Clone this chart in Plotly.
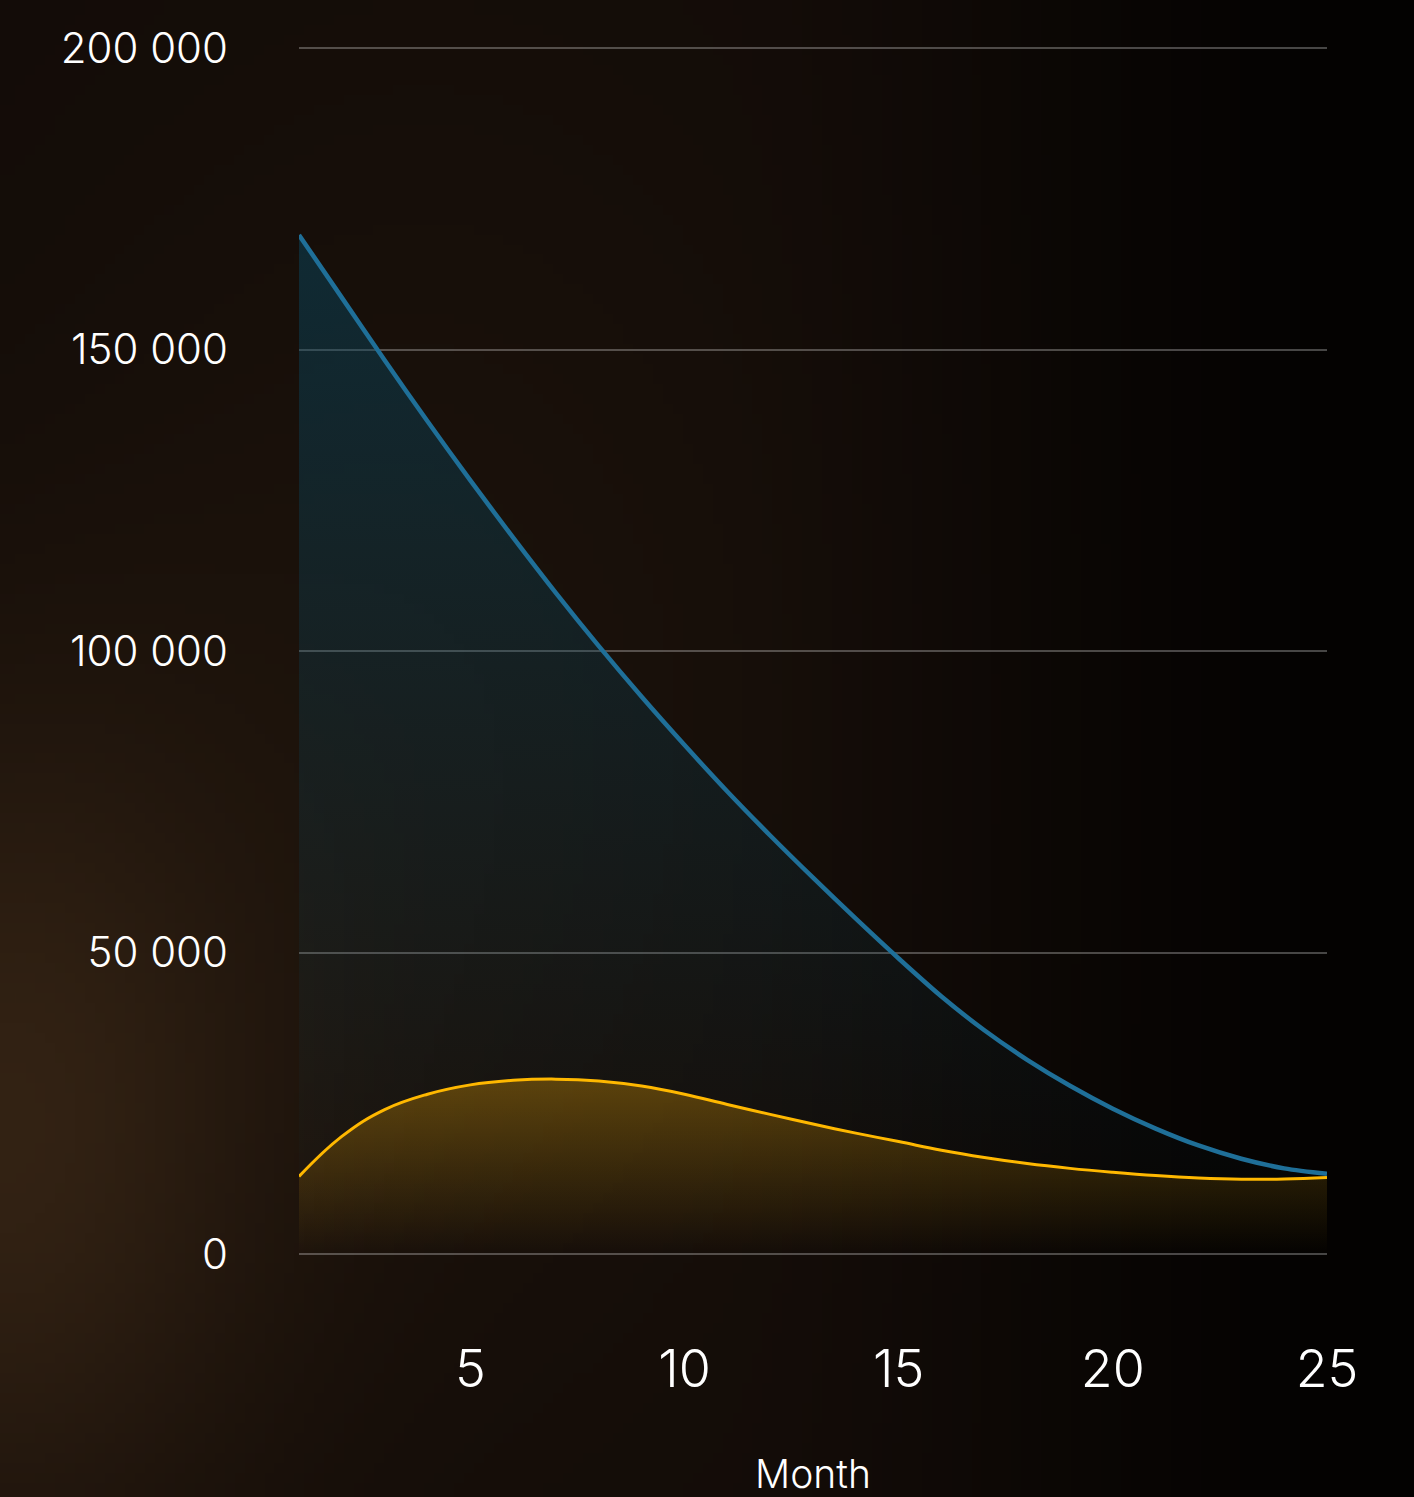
import base64
import struct
import zlib

import numpy as np
import plotly.graph_objects as go

# ---- data -------------------------------------------------------------
months = list(range(1, 26))
balance = [169000, 158600, 148200, 138100, 128300, 118800, 109600, 100800,
           92400, 84400, 76700, 69400, 62400, 55600, 49000, 42700, 37100,
           32200, 27900, 24100, 20800, 18000, 15800, 14200, 13300]
payment = [12850, 19500, 23950, 26500, 28050, 28800, 29000, 28700, 27850,
           26500, 24800, 23150, 21550, 20050, 18650, 17200, 16000, 15000,
           14200, 13550, 13000, 12600, 12400, 12450, 12700]
y_ticks = [0, 50000, 100000, 150000, 200000]
y_tick_text = ["0", "50 000", "100 000", "150 000", "200 000"]
x_ticks = [5, 10, 15, 20, 25]

W, H = 1414, 1497
FONT = "Inter, Lato, sans-serif"


# ---- soft dark backdrop, rendered into a small PNG and stretched ------
def backdrop_png(w=142, h=150):
    u = (np.arange(w) + 0.5) / w
    v = (np.arange(h) + 0.5) / h
    U, V = np.meshgrid(u, v)
    base = np.array([19, 12, 8], float)
    img = np.ones((h, w, 3)) * base
    # warm glow on the lower left
    g1 = np.exp(-((U - 0.0) ** 2) / (2 * 0.13 ** 2) - ((V - 0.76) ** 2) / (2 * 0.2 ** 2))
    img += g1[..., None] * np.array([30, 21, 11])
    # faint warm haze in the middle left
    g2 = np.exp(-((U - 0.3) ** 2) / (2 * 0.2 ** 2) - ((V - 0.5) ** 2) / (2 * 0.3 ** 2))
    img += g2[..., None] * np.array([8, 6, 3])
    # darker towards the right edge
    t = np.clip((U - 0.5) / 0.5, 0, 1)
    fade = 1 - 0.8 * t * t * (3 - 2 * t)
    img *= fade[..., None]
    arr = np.clip(img, 0, 255).astype(np.uint8)

    raw = b"".join(b"\x00" + arr[r].tobytes() for r in range(h))

    def chunk(tag, data):
        c = struct.pack(">I", len(data)) + tag + data
        return c + struct.pack(">I", zlib.crc32(tag + data) & 0xFFFFFFFF)

    png = b"\x89PNG\r\n\x1a\n"
    png += chunk(b"IHDR", struct.pack(">IIBBBBB", w, h, 8, 2, 0, 0, 0))
    png += chunk(b"IDAT", zlib.compress(raw, 9))
    png += chunk(b"IEND", b"")
    return "data:image/png;base64," + base64.b64encode(png).decode()


fig = go.Figure()

fig.add_trace(go.Scatter(
    x=months, y=balance, mode="lines",
    line=dict(color="#1f6f98", width=4.5, shape="spline", smoothing=0.9),
    fill="tozeroy",
    fillgradient=dict(
        type="vertical", start=0, stop=max(balance),
        colorscale=[[0, "rgba(8,70,95,0.0)"], [1, "rgba(8,72,98,0.48)"]],
    ),
    hoverinfo="skip", showlegend=False,
))

fig.add_trace(go.Scatter(
    x=months, y=payment, mode="lines",
    line=dict(color="#ffb800", width=3, shape="spline", smoothing=1.2),
    fill="tozeroy",
    fillgradient=dict(
        type="vertical", start=0, stop=max(payment),
        colorscale=[[0, "rgba(255,175,0,0.0)"], [1, "rgba(255,175,0,0.3)"]],
    ),
    hoverinfo="skip", showlegend=False,
))

# value axis padded a little so the 0 and 200 000 grid lines are kept
pad = 1000
px_per_unit = (1254 - 48) / 200000
top_px = 48 - pad * px_per_unit
bot_px = 1254 + pad * px_per_unit

fig.update_layout(
    width=W, height=H,
    margin=dict(l=0, r=0, t=0, b=0),
    paper_bgcolor="#0c0805",
    plot_bgcolor="rgba(0,0,0,0)",
    images=[dict(
        source=backdrop_png(), xref="paper", yref="paper",
        x=0, y=1, sizex=1, sizey=1, xanchor="left", yanchor="top",
        sizing="stretch", layer="below",
    )],
    xaxis=dict(
        domain=[299 / W, 1327 / W], range=[1, 25],
        tickvals=x_ticks, showgrid=False, zeroline=False, showline=False,
        ticks="", ticklabelstandoff=74, automargin=False,
        tickfont=dict(family=FONT, size=52, color="#ffffff", weight=300),
        title=dict(text="Month", standoff=62,
                   font=dict(family=FONT, size=39, color="#ffffff", weight=300)),
    ),
    yaxis=dict(
        domain=[1 - bot_px / H, 1 - top_px / H], range=[-pad, 200000 + pad],
        tickvals=y_ticks, ticktext=y_tick_text,
        showgrid=True, gridcolor="rgba(255,255,255,0.27)", gridwidth=2,
        zeroline=False, showline=False, ticks="",
        ticklabelstandoff=70, automargin=False,
        tickfont=dict(family=FONT, size=42, color="#ffffff", weight=300),
    ),
)

fig.write_html("out.html")
